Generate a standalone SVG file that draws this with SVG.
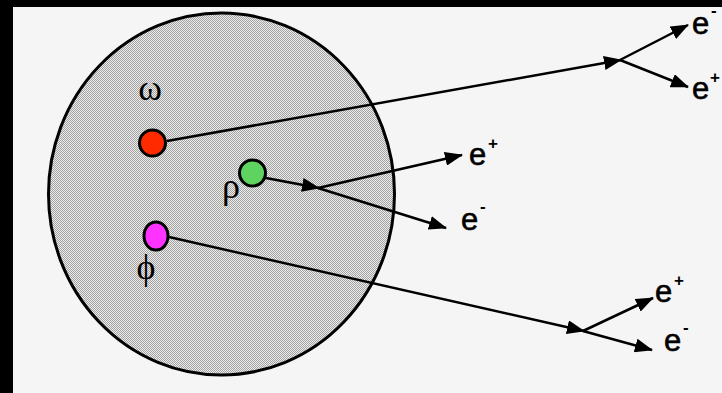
<svg xmlns="http://www.w3.org/2000/svg" width="722" height="393" viewBox="0 0 722 393">
<style>
.ln{stroke:#000;stroke-width:2.5;fill:none}
.e{font-family:"Liberation Sans",Arial,sans-serif;font-size:31px;fill:#000;stroke:#000;stroke-width:0.6}
.sup{font-family:"Liberation Sans",Arial,sans-serif;font-size:17px;font-weight:bold;fill:#000}
.gr{font-family:"Liberation Serif","DejaVu Serif",serif;font-size:36px;fill:#000}
.node{stroke:#000;stroke-width:3}
</style>
<defs>
<pattern id="dots" width="2" height="2" patternUnits="userSpaceOnUse">
<rect width="2" height="2" fill="#ececec"/>
<rect width="1" height="1" fill="#a2a2a2"/>
<rect x="1" y="1" width="1" height="1" fill="#a2a2a2"/>
</pattern>
<marker id="ah" markerWidth="18" markerHeight="14" refX="17" refY="7" orient="auto" markerUnits="userSpaceOnUse">
<path d="M0,0 L18,7 L0,14 Z" fill="#000"/>
</marker>
</defs>
<rect width="722" height="393" fill="#f5f5f5"/>
<rect width="722" height="7" fill="#000"/>
<rect width="13" height="393" fill="#000"/>
<ellipse id="nucleus" cx="221.5" cy="194" rx="173" ry="181" fill="url(#dots)" stroke="#000" stroke-width="3"/>
<g id="connectors">
<line class="ln" x1="167" y1="141" x2="621" y2="60" marker-end="url(#ah)"/>
<line class="ln" x1="620" y1="60" x2="688" y2="25" marker-end="url(#ah)"/>
<line class="ln" x1="620" y1="60" x2="688" y2="87" marker-end="url(#ah)"/>
<line class="ln" x1="266" y1="178" x2="319" y2="188" marker-end="url(#ah)"/>
<line class="ln" x1="318" y1="188" x2="462" y2="155" marker-end="url(#ah)"/>
<line class="ln" x1="318" y1="188" x2="446" y2="228" marker-end="url(#ah)"/>
<line class="ln" x1="169" y1="237" x2="584" y2="331" marker-end="url(#ah)"/>
<line class="ln" x1="583" y1="331" x2="653" y2="298" marker-end="url(#ah)"/>
<line class="ln" x1="583" y1="331" x2="652" y2="350" marker-end="url(#ah)"/>
</g>
<g id="omega">
<circle class="node" cx="152.5" cy="143" r="13" fill="#ff2a00"/>
<text class="gr" x="150" y="100" text-anchor="middle" font-size="40">ω</text>
</g>
<g id="rho">
<circle class="node" cx="252.5" cy="173" r="13" fill="#5fd35f"/>
<text class="gr" x="231" y="198" text-anchor="middle">ρ</text>
</g>
<g id="phi">
<ellipse class="node" cx="156" cy="236" rx="12" ry="14" fill="#ff33ff"/>
<text class="gr" x="146" y="279" text-anchor="middle">ϕ</text>
</g>
<g id="labels">
<text class="e" x="692" y="34">e</text><text class="sup" x="711" y="16">-</text>
<text class="e" x="692" y="99">e</text><text class="sup" x="710" y="83">+</text>
<text class="e" x="469" y="165">e</text><text class="sup" x="488" y="149">+</text>
<text class="e" x="461" y="230">e</text><text class="sup" x="480" y="212">-</text>
<text class="e" x="655" y="302">e</text><text class="sup" x="674" y="286">+</text>
<text class="e" x="664" y="351">e</text><text class="sup" x="683" y="333">-</text>
</g>
</svg>
